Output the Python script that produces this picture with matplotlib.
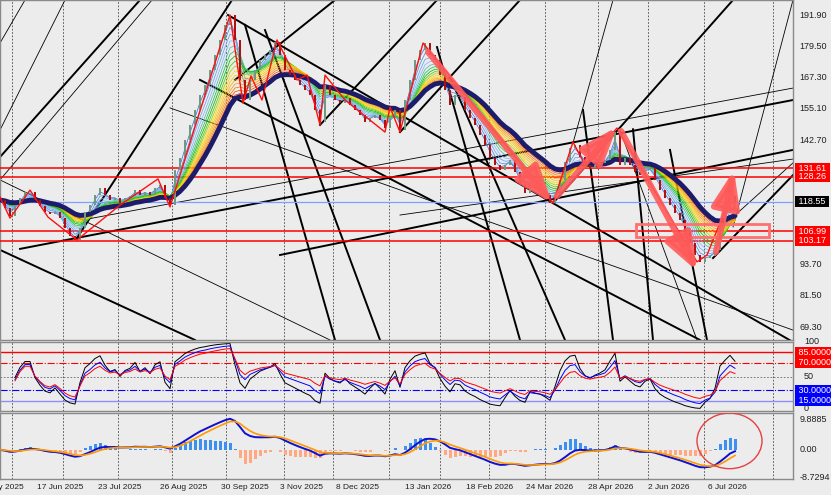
import numpy as np
import pandas as pd
import matplotlib.pyplot as plt
from matplotlib.patches import Rectangle, Ellipse
from matplotlib.colors import LinearSegmentedColormap
import matplotlib.transforms as mtransforms

plt.rcParams['font.family'] = ['Liberation Sans', 'DejaVu Sans']

# daily closes, one per bar (bar = one step on the x axis)
closes = [119.2, 116.1, 112.9, 117.2, 120.0, 122.4, 122.4, 119.2, 116.9, 114.5,
          113.7, 114.5, 112.1, 108.2, 105.1, 103.5, 108.2, 114.5, 117.2, 121.2,
          123.9, 121.2, 119.2, 120.0, 118.0, 120.0, 120.8, 123.1, 121.2, 122.4,
          121.2, 123.9, 125.1, 120.0, 117.2, 131.0, 135.7, 142.8, 148.7, 154.6,
          160.5, 164.4, 170.3, 176.2, 182.1, 188.0, 191.9, 182.1, 166.4, 158.5,
          166.4, 170.3, 174.2, 176.2, 178.1, 181.3, 176.2, 170.3, 168.3, 166.4,
          164.4, 162.4, 160.5, 154.6, 149.9, 164.4, 160.5, 158.5, 157.3, 159.3,
          156.5, 154.6, 152.6, 149.9, 151.4, 152.6, 150.6, 147.5, 151.4, 154.6,
          146.7, 158.5, 166.4, 174.2, 178.1, 180.9, 176.2, 174.2, 168.3, 162.4,
          156.5, 160.5, 159.7, 154.6, 151.4, 148.7, 144.7, 140.8, 135.7, 133.0,
          131.0, 133.0, 134.9, 130.2, 125.1, 122.0, 125.1, 123.9, 123.1, 121.2,
          118.0, 121.2, 127.1, 134.1, 139.6, 140.8, 136.1, 133.0, 131.8, 133.0,
          133.8, 134.9, 138.9, 145.9, 133.0, 135.7, 133.0, 130.2, 129.0, 131.0,
          131.8, 127.1, 123.1, 120.0, 117.2, 114.1, 111.3, 106.6, 102.3, 97.6,
          94.9, 96.4, 97.2, 99.6, 109.4, 114.5, 120.8, 118.55]

# zigzag swing points (bar, price)
zz_bars = [0, 2, 6, 9.6, 15.4, 24, 31.6, 34, 46, 48.6, 50.2, 52.4, 55.4, 59.4, 61.4, 64,
           65, 69, 74, 77, 78, 80, 84.6, 110.6, 114.6, 117, 123.4, 139.4, 141.4, 146]
zz_prices = [120.4, 112.1, 123.1, 112.5, 103.5, 117.2, 127.5, 116.5, 191.9, 157.3, 167.9,
             158.5, 182.1, 166.4, 168.3, 148.7, 168.3, 158.5, 150.6, 145.9, 155.7, 145.9,
             180.9, 118.0, 142.0, 133.0, 147.5, 94.9, 97.6, 120.0]

# trend lines: (bar0, price0, bar1, price1, width)
trend_lines = [
    (4, 100.0, 158.6, 158.5, 1.4),
    (56, 97.6, 158.6, 138.9, 1.4),
    (45.6, 191.9, 158.6, 63.4, 1.4),
    (40, 166.4, 140, 64.2, 1.4),
    (15.4, 104.3, 46.4, 197.8, 1.4),
    (0, 136.1, 28, 197.8, 1.4),
    (47, 166.4, 67, 197.8, 1.4),
    (64, 148.7, 87.4, 197.8, 1.4),
    (80, 145.9, 104, 197.8, 1.4),
    (110.6, 118.0, 146.6, 197.8, 1.4),
    (142.6, 96.4, 158.6, 129.0, 1.4),
    (0, 99.6, 39, 64.2, 1.4),
    (49, 188.0, 67, 64.2, 1.4),
    (53, 186.0, 76, 64.2, 1.4),
    (87.4, 179.3, 104, 64.2, 1.4),
    (90, 167.5, 113, 64.2, 1.4),
    (116.6, 154.6, 122.6, 64.2, 1.4),
    (126.6, 147.0, 130.6, 64.2, 1.4),
    (134, 138.9, 141.4, 64.2, 1.4),
    (16.6, 111.4, 158.6, 163.2, 0.6),
    (80, 113.3, 158.6, 135.3, 0.6),
    (0, 127.1, 66, 64.2, 0.6),
    (34, 155.4, 158.6, 68.1, 0.6),
    (124, 146.7, 139.4, 64.2, 0.6),
    (146.6, 108.6, 158.6, 197.8, 0.6),
    (114.6, 141.6, 122.6, 197.8, 0.6),
    (146.6, 112.5, 158.6, 133.8, 0.6),
    (0, 146.7, 13, 197.8, 0.6),
    (0, 180.9, 5, 197.8, 0.6),
    (0, 127.1, 30.4, 197.8, 0.6),
]

red_levels = [131.61, 128.26, 106.99, 103.17]
bid_price = 118.55
price_ticks = [191.90, 179.50, 167.30, 155.10, 142.70, 93.70, 81.50, 69.30]

# arrows: (bar0, price0, bar1, price1)
arrows = [(85.6, 177.4, 110.4, 118.0),
          (111.4, 120.8, 123.4, 147.9),
          (124.2, 146.3, 139.4, 91.3),
          (143.2, 98.8, 146.8, 131.0)]
zone = (127.2, 104.7, 153.8, 109.8)

date_labels = ["13 May 2025", "17 Jun 2025", "23 Jul 2025", "26 Aug 2025", "30 Sep 2025",
               "3 Nov 2025", "8 Dec 2025", "13 Jan 2026", "18 Feb 2026", "24 Mar 2026",
               "28 Apr 2026", "2 Jun 2026", "6 Jul 2026"]
date_pos = [-0.2, 12.1, 24, 36.8, 49, 60.4, 71.4, 85.6, 97.9, 110, 122.2, 133.8, 145.5]
grid_pos = [2.4, 12.6, 23.6, 34.4, 45.2, 56.8, 66.6, 77.8, 88, 97.8, 109, 119.6, 129.6,
            140.8, 154.6]

bg = '#ececec'
fs = 6.5
close = pd.Series(closes)
opens = close.shift(1).fillna(close.iloc[0])
bars = np.arange(len(close))
xlim = (0, 158.6)

fig = plt.figure(figsize=(8.31, 4.95), dpi=100, facecolor=bg)
W, H = 831, 495
ax = fig.add_axes([0, 1 - 340 / H, 793 / W, 340 / H], facecolor=bg)
ax_rsi = fig.add_axes([0, 1 - 411 / H, 793 / W, 69 / H], facecolor=bg)
ax_macd = fig.add_axes([0, 1 - 479 / H, 793 / W, 66 / H], facecolor=bg)

for a in (ax, ax_rsi, ax_macd):
    a.set_xticks([])
    a.set_yticks([])
    for s in a.spines.values():
        s.set_color('#8a8a8a')
        s.set_linewidth(1.0)
    for g in grid_pos:
        a.axvline(g, color='#444444', lw=0.6, ls=(0, (2, 2)), zorder=0)

# ---- main window ----
for b0, p0, b1, p1, w in trend_lines:
    ax.plot([b0, b1], [p0, p1], color='black', lw=w, zorder=2)

for lv in red_levels:
    ax.axhline(lv, color='#ff0000', lw=1.1, zorder=3)
ax.axhline(bid_price, color='#7fa0ff', lw=0.9, zorder=3)

cmap = LinearSegmentedColormap.from_list(
    'rib', ['#3c78d8', '#7fb8ff', '#00c000', '#ffd700', '#ff9900', '#ff2a00'])
spans = list(range(2, 18))
for k, sp in enumerate(spans):
    ma = close.ewm(span=sp, adjust=False).mean()
    ax.plot(bars, ma, color=cmap(k / (len(spans) - 1)), lw=0.55, zorder=4)
navy = close.ewm(span=18, adjust=False).mean()
ax.plot(bars, navy, color='#1c1c6b', lw=3.5, zorder=5, solid_capstyle='round')

up = close >= opens
body_bottom = np.minimum(opens, close)
body_h = np.abs(close - opens)
ax.bar(bars[up], body_h[up], bottom=body_bottom[up], width=0.55,
       color='#6e9a82', zorder=6)
ax.bar(bars[~up], body_h[~up], bottom=body_bottom[~up], width=0.55,
       color='#b01010', zorder=6)

ax.plot(zz_bars, zz_prices, color='#ff1010', lw=1.0, zorder=7)

x0, y0, x1, y1 = zone
ax.add_patch(Rectangle((x0, y0), x1 - x0, y1 - y0, fill=False,
                       ec='#ff7070', lw=2.0, zorder=8))
for b0, p0, b1, p1 in arrows:
    ax.annotate('', xy=(b1, p1), xytext=(b0, p0),
                arrowprops=dict(arrowstyle='-|>,head_width=0.6,head_length=1.6',
                                lw=4.5, color='#ff5a5a', alpha=0.9,
                                mutation_scale=14, shrinkA=0, shrinkB=0),
                zorder=9)

ax.set_xlim(*xlim)
ax.set_ylim(64.2, 197.8)

tr = mtransforms.blended_transform_factory(ax.transAxes, ax.transData)
for p in price_ticks:
    ax.text(1.008, p, f'{p:.2f}', transform=tr, fontsize=fs, va='center',
            ha='left', color='#202020', clip_on=False)
for lv in red_levels:
    ax.text(1.004, lv, f' {lv:.2f} ', transform=tr, fontsize=fs, va='center',
            ha='left', color='white', clip_on=False,
            bbox=dict(boxstyle='square,pad=0.1', fc='#ff0000', ec='none'))
ax.text(1.004, bid_price, f' {bid_price:.2f} ', transform=tr, fontsize=fs, va='center',
        ha='left', color='white', clip_on=False,
        bbox=dict(boxstyle='square,pad=0.1', fc='black', ec='none'))

# ---- RSI window ----
def rsi(s, n):
    d = s.diff()
    g = d.clip(lower=0).ewm(alpha=1 / n).mean()
    l = (-d.clip(upper=0)).ewm(alpha=1 / n).mean()
    return 100 - 100 / (1 + g / l)

ax_rsi.axhline(85, color='#ff0000', lw=1.0)
ax_rsi.axhline(70, color='#ff0000', lw=0.8, ls='-.')
ax_rsi.axhline(50, color='#666666', lw=0.6, ls=(0, (2, 2)))
ax_rsi.axhline(30, color='#0000ff', lw=0.8, ls='-.')
ax_rsi.axhline(15, color='#8c8cff', lw=1.0)
rb = bars[3:]
ax_rsi.plot(rb, rsi(close, 5)[3:], color='black', lw=0.7)
ax_rsi.plot(rb, rsi(close, 8)[3:], color='#0000ff', lw=0.7)
ax_rsi.plot(rb, rsi(close, 12)[3:], color='#ff0000', lw=0.7)
ax_rsi.set_xlim(*xlim)
ax_rsi.set_ylim(0, 100)
tr_r = mtransforms.blended_transform_factory(ax_rsi.transAxes, ax_rsi.transData)
for v, y in [('100', 100), ('50', 50), ('0', 4)]:
    ax_rsi.text(1.014, y, v, transform=tr_r, fontsize=fs, va='center', ha='left',
                color='#202020', clip_on=False)
for v, fc in [(85, '#ff0000'), (70, '#ff0000'), (30, '#0000ff'), (15, '#0000ff')]:
    ax_rsi.text(1.004, v, f' {v:.4f}', transform=tr_r, fontsize=fs, va='center',
                ha='left', color='white', clip_on=False,
                bbox=dict(boxstyle='square,pad=0.1', fc=fc, ec='none'))

# ---- MACD window ----
macd = (close.ewm(span=6, adjust=False).mean() - close.ewm(span=20, adjust=False).mean()) * 0.4
signal = macd.ewm(span=4, adjust=False).mean()
hist = (macd - signal) * 2.5
ax_macd.bar(bars, hist.where(hist > 0, 0), width=0.6, color='#3d8ff0', zorder=2)
ax_macd.bar(bars, hist.where(hist < 0, 0), width=0.6, color='#ffa882', zorder=2)
ax_macd.plot(bars, macd, color='#1010d0', lw=1.4, zorder=3)
ax_macd.plot(bars, signal, color='#ff9a00', lw=1.2, zorder=4)
ax_macd.add_patch(Ellipse((145.9, 2.9), 13, 17.9, fill=False, ec='#e84040', lw=1.0, zorder=5))
ax_macd.set_xlim(*xlim)
ax_macd.set_ylim(-9.37, 11.88)
tr_m = mtransforms.blended_transform_factory(ax_macd.transAxes, ax_macd.transData)
for v in ['9.8885', '0.00', '-8.7294']:
    ax_macd.text(1.008, float(v), v, transform=tr_m, fontsize=fs, va='center',
                 ha='left', color='#202020', clip_on=False)

tr_d = mtransforms.blended_transform_factory(ax_macd.transData, ax_macd.transAxes)
for lab, pos in zip(date_labels, date_pos):
    ax_macd.text(pos, -0.135, lab, transform=tr_d, fontsize=6, va='center',
                 ha='center', color='#202020', clip_on=False)

fig.savefig('out.png', dpi=100, facecolor=bg)
